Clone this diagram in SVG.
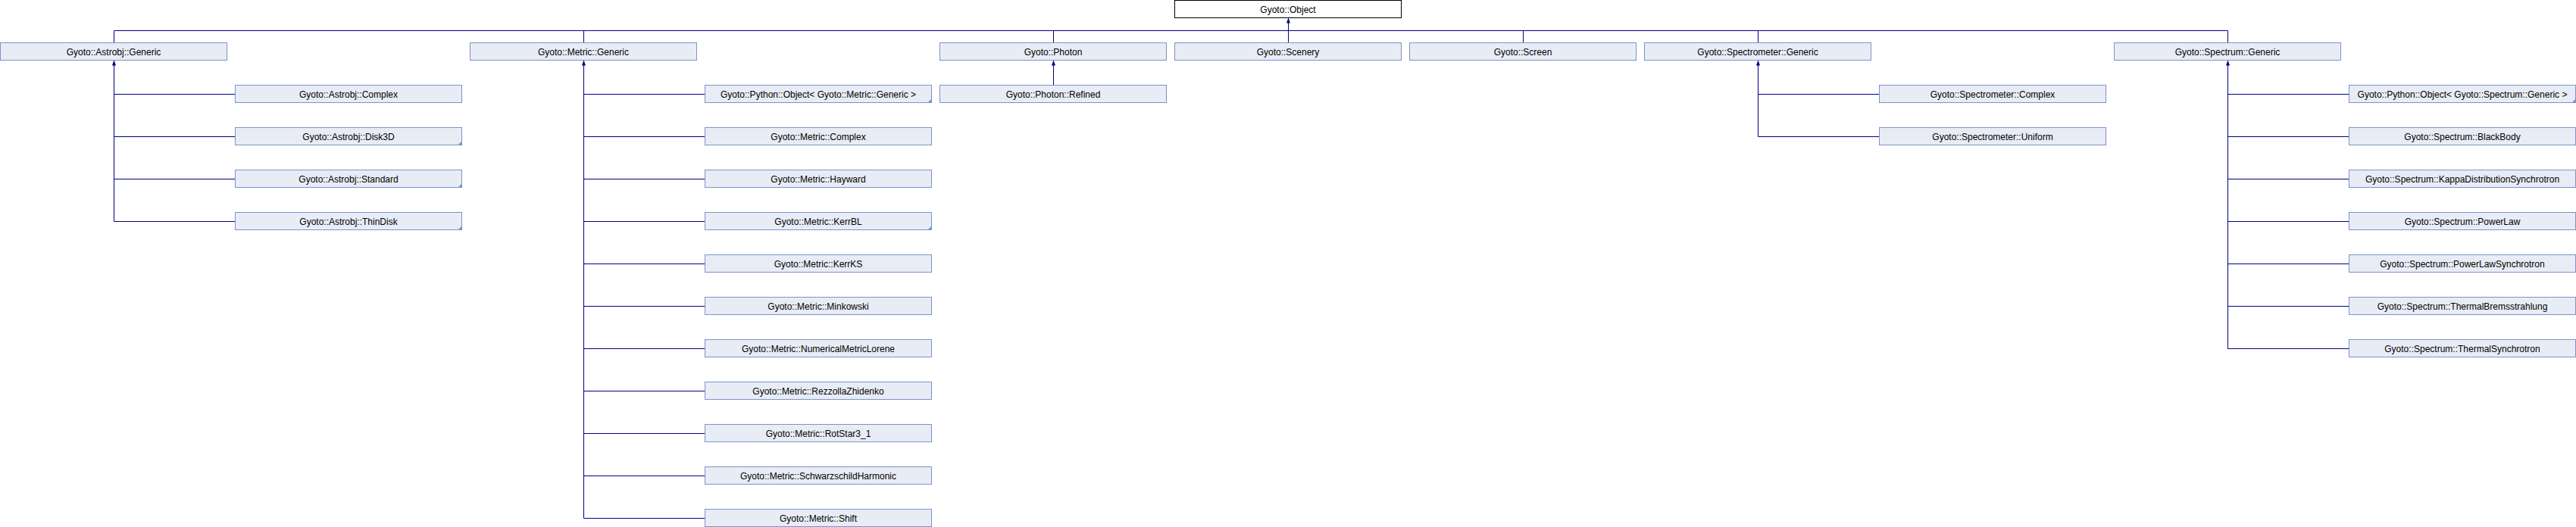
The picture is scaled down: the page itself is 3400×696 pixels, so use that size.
<svg xmlns="http://www.w3.org/2000/svg" width="3400" height="696" viewBox="0 0 3400 696">
<style>
.n rect{fill:#E8ECF5;stroke:#7B93CB;stroke-width:1}
.root rect{fill:#FFFFFF;stroke:#000000;stroke-width:1}
text{font-family:"Liberation Sans",Arial,sans-serif;font-size:12px;fill:#000000;text-anchor:middle}
.c{fill:none;stroke:#000080;stroke-width:1}
.ear{fill:#7B93CB;stroke:none}
</style>
<defs>
<marker id="arr" markerUnits="userSpaceOnUse" viewBox="0 0 7 5" refX="7" refY="2.5" markerWidth="7" markerHeight="5" orient="auto-start-reverse">
<path d="M0,0 L7,2.5 L0,5 z" fill="#000080"/>
</marker>
</defs>
<rect width="3400" height="696" fill="#FFFFFF"/>
<g id="connectors">
<path class="c" marker-start="url(#arr)" d="M1700.5,23.5 V40.5"/>
<path class="c" d="M150.5,40.5 H2940.5"/>
<path class="c" d="M150.5,40.5 V56.5 M770.5,40.5 V56.5 M1390.5,40.5 V56.5 M1700.5,40.5 V56.5 M2010.5,40.5 V56.5 M2320.5,40.5 V56.5 M2940.5,40.5 V56.5"/>
<path class="c" marker-start="url(#arr)" d="M150.5,79.5 V292.5"/>
<path class="c" d="M150.5,124.5 H310.5 M150.5,180.5 H310.5 M150.5,236.5 H310.5 M150.5,292.5 H310.5"/>
<path class="c" marker-start="url(#arr)" d="M770.5,79.5 V684.5"/>
<path class="c" d="M770.5,124.5 H930.5 M770.5,180.5 H930.5 M770.5,236.5 H930.5 M770.5,292.5 H930.5 M770.5,348.5 H930.5 M770.5,404.5 H930.5 M770.5,460.5 H930.5 M770.5,516.5 H930.5 M770.5,572.5 H930.5 M770.5,628.5 H930.5 M770.5,684.5 H930.5"/>
<path class="c" marker-start="url(#arr)" d="M1390.5,79.5 V112.5"/>
<path class="c" marker-start="url(#arr)" d="M2320.5,79.5 V180.5"/>
<path class="c" d="M2320.5,124.5 H2480.5 M2320.5,180.5 H2480.5"/>
<path class="c" marker-start="url(#arr)" d="M2940.5,79.5 V460.5"/>
<path class="c" d="M2940.5,124.5 H3100.5 M2940.5,180.5 H3100.5 M2940.5,236.5 H3100.5 M2940.5,292.5 H3100.5 M2940.5,348.5 H3100.5 M2940.5,404.5 H3100.5 M2940.5,460.5 H3100.5"/>
</g>
<g id="n_object" class="root"><rect x="1550.5" y="0.5" width="299" height="23"/><text x="1700" y="16.5">Gyoto::Object</text></g>

<g id="n_astrobj_generic" class="n"><rect x="0.5" y="56.5" width="299" height="23"/><text x="150" y="72.5">Gyoto::Astrobj::Generic</text></g>
<g id="n_metric_generic" class="n"><rect x="620.5" y="56.5" width="299" height="23"/><text x="770" y="72.5">Gyoto::Metric::Generic</text></g>
<g id="n_photon" class="n"><rect x="1240.5" y="56.5" width="299" height="23"/><text x="1390" y="72.5">Gyoto::Photon</text></g>
<g id="n_scenery" class="n"><rect x="1550.5" y="56.5" width="299" height="23"/><text x="1700" y="72.5">Gyoto::Scenery</text></g>
<g id="n_screen" class="n"><rect x="1860.5" y="56.5" width="299" height="23"/><text x="2010" y="72.5">Gyoto::Screen</text></g>
<g id="n_spectrometer_generic" class="n"><rect x="2170.5" y="56.5" width="299" height="23"/><text x="2320" y="72.5">Gyoto::Spectrometer::Generic</text></g>
<g id="n_spectrum_generic" class="n"><rect x="2790.5" y="56.5" width="299" height="23"/><text x="2940" y="72.5">Gyoto::Spectrum::Generic</text></g>

<g id="n_astrobj_complex" class="n"><rect x="310.5" y="112.5" width="299" height="23"/><text x="460" y="128.5">Gyoto::Astrobj::Complex</text></g>
<g id="n_astrobj_disk3d" class="n"><rect x="310.5" y="168.5" width="299" height="23"/><path class="ear" d="M609.5,186.5 V191.5 H604.5 z"/><text x="460" y="184.5">Gyoto::Astrobj::Disk3D</text></g>
<g id="n_astrobj_standard" class="n"><rect x="310.5" y="224.5" width="299" height="23"/><path class="ear" d="M609.5,242.5 V247.5 H604.5 z"/><text x="460" y="240.5">Gyoto::Astrobj::Standard</text></g>
<g id="n_astrobj_thindisk" class="n"><rect x="310.5" y="280.5" width="299" height="23"/><path class="ear" d="M609.5,298.5 V303.5 H604.5 z"/><text x="460" y="296.5">Gyoto::Astrobj::ThinDisk</text></g>

<g id="n_python_metric" class="n"><rect x="930.5" y="112.5" width="299" height="23"/><path class="ear" d="M1229.5,130.5 V135.5 H1224.5 z"/><text x="1080" y="128.5">Gyoto::Python::Object&lt; Gyoto::Metric::Generic &gt;</text></g>
<g id="n_metric_complex" class="n"><rect x="930.5" y="168.5" width="299" height="23"/><text x="1080" y="184.5">Gyoto::Metric::Complex</text></g>
<g id="n_metric_hayward" class="n"><rect x="930.5" y="224.5" width="299" height="23"/><text x="1080" y="240.5">Gyoto::Metric::Hayward</text></g>
<g id="n_metric_kerrbl" class="n"><rect x="930.5" y="280.5" width="299" height="23"/><path class="ear" d="M1229.5,298.5 V303.5 H1224.5 z"/><text x="1080" y="296.5">Gyoto::Metric::KerrBL</text></g>
<g id="n_metric_kerrks" class="n"><rect x="930.5" y="336.5" width="299" height="23"/><text x="1080" y="352.5">Gyoto::Metric::KerrKS</text></g>
<g id="n_metric_minkowski" class="n"><rect x="930.5" y="392.5" width="299" height="23"/><text x="1080" y="408.5">Gyoto::Metric::Minkowski</text></g>
<g id="n_metric_numerical" class="n"><rect x="930.5" y="448.5" width="299" height="23"/><text x="1080" y="464.5">Gyoto::Metric::NumericalMetricLorene</text></g>
<g id="n_metric_rezzolla" class="n"><rect x="930.5" y="504.5" width="299" height="23"/><text x="1080" y="520.5">Gyoto::Metric::RezzollaZhidenko</text></g>
<g id="n_metric_rotstar" class="n"><rect x="930.5" y="560.5" width="299" height="23"/><text x="1080" y="576.5">Gyoto::Metric::RotStar3_1</text></g>
<g id="n_metric_schwarzschild" class="n"><rect x="930.5" y="616.5" width="299" height="23"/><text x="1080" y="632.5">Gyoto::Metric::SchwarzschildHarmonic</text></g>
<g id="n_metric_shift" class="n"><rect x="930.5" y="672.5" width="299" height="23"/><text x="1080" y="688.5">Gyoto::Metric::Shift</text></g>

<g id="n_photon_refined" class="n"><rect x="1240.5" y="112.5" width="299" height="23"/><text x="1390" y="128.5">Gyoto::Photon::Refined</text></g>

<g id="n_spectrometer_complex" class="n"><rect x="2480.5" y="112.5" width="299" height="23"/><text x="2630" y="128.5">Gyoto::Spectrometer::Complex</text></g>
<g id="n_spectrometer_uniform" class="n"><rect x="2480.5" y="168.5" width="299" height="23"/><text x="2630" y="184.5">Gyoto::Spectrometer::Uniform</text></g>

<g id="n_python_spectrum" class="n"><rect x="3100.5" y="112.5" width="299" height="23"/><path class="ear" d="M3399.5,130.5 V135.5 H3394.5 z"/><text x="3250" y="128.5">Gyoto::Python::Object&lt; Gyoto::Spectrum::Generic &gt;</text></g>
<g id="n_spectrum_blackbody" class="n"><rect x="3100.5" y="168.5" width="299" height="23"/><text x="3250" y="184.5">Gyoto::Spectrum::BlackBody</text></g>
<g id="n_spectrum_kappa" class="n"><rect x="3100.5" y="224.5" width="299" height="23"/><text x="3250" y="240.5">Gyoto::Spectrum::KappaDistributionSynchrotron</text></g>
<g id="n_spectrum_powerlaw" class="n"><rect x="3100.5" y="280.5" width="299" height="23"/><text x="3250" y="296.5">Gyoto::Spectrum::PowerLaw</text></g>
<g id="n_spectrum_plsync" class="n"><rect x="3100.5" y="336.5" width="299" height="23"/><text x="3250" y="352.5">Gyoto::Spectrum::PowerLawSynchrotron</text></g>
<g id="n_spectrum_brems" class="n"><rect x="3100.5" y="392.5" width="299" height="23"/><text x="3250" y="408.5">Gyoto::Spectrum::ThermalBremsstrahlung</text></g>
<g id="n_spectrum_thermalsync" class="n"><rect x="3100.5" y="448.5" width="299" height="23"/><text x="3250" y="464.5">Gyoto::Spectrum::ThermalSynchrotron</text></g>
</svg>
